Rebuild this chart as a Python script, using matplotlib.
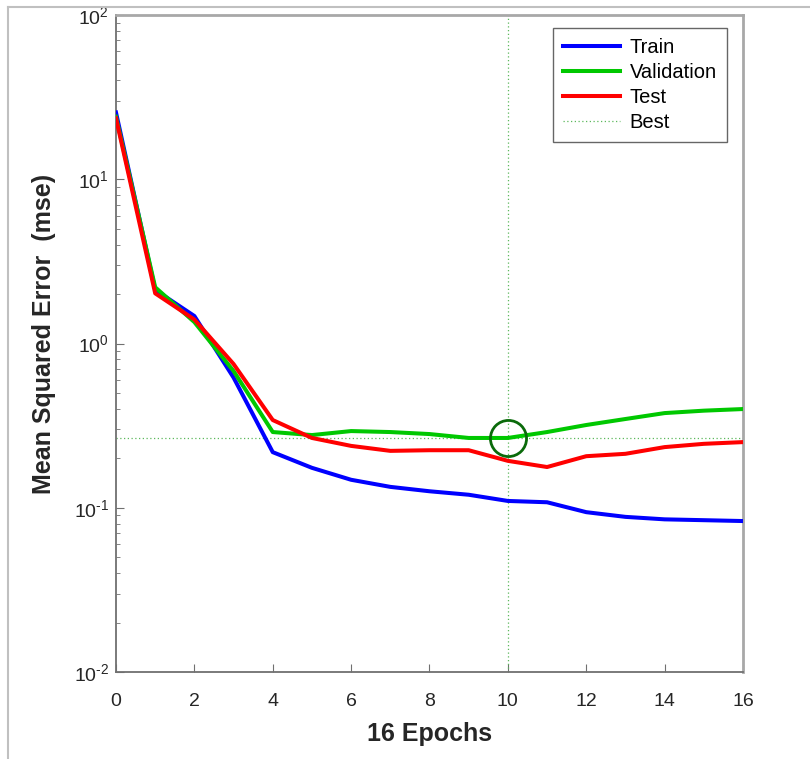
import matplotlib
matplotlib.use("Agg")
import matplotlib.pyplot as plt
from matplotlib.lines import Line2D
from matplotlib.ticker import LogLocator, FixedLocator, NullFormatter, FuncFormatter
import math

plt.rcParams['font.family'] = ['Liberation Sans', 'DejaVu Sans']
plt.rcParams['mathtext.fontset'] = 'custom'
plt.rcParams['mathtext.rm'] = 'Liberation Sans'
plt.rcParams['mathtext.it'] = 'Liberation Sans'
plt.rcParams['axes.unicode_minus'] = False

epochs = list(range(17))
train = [25.5, 2.12, 1.47, 0.62, 0.218, 0.175, 0.148, 0.134, 0.126, 0.120, 0.110, 0.108, 0.094, 0.088, 0.085, 0.084, 0.083]
validation = [24.0, 2.2, 1.35, 0.68, 0.289, 0.277, 0.293, 0.289, 0.281, 0.266, 0.266, 0.289, 0.319, 0.347, 0.377, 0.39, 0.399]
test = [23.5, 2.02, 1.40, 0.75, 0.342, 0.266, 0.238, 0.222, 0.224, 0.224, 0.193, 0.177, 0.206, 0.213, 0.234, 0.245, 0.251]
best_epoch = 10
best_value = 0.266
xticks = [0, 2, 4, 6, 8, 10, 12, 14, 16]

fig = plt.figure(figsize=(8.1, 7.59), dpi=100)
W, H = 810, 759
ax = fig.add_axes([116 / W, 1 - 672 / H, (743 - 116) / W, (672 - 15) / H])

ax.plot(epochs, train, color='#0000ff', lw=2.9, label='Train', zorder=3)
ax.plot(epochs, validation, color='#00c800', lw=2.9, label='Validation', zorder=3)
ax.plot(epochs, test, color='#ff0000', lw=2.9, label='Test', zorder=4)
ax.axvline(best_epoch, color='#5cb85c', lw=0.9, ls=(0, (1, 2)), label='Best', zorder=2)
ax.axhline(best_value, color='#5cb85c', lw=0.9, ls=(0, (1, 2)), zorder=2)
ax.plot([best_epoch], [best_value], marker='o', ms=26, mfc='none', mec='#0a6a0a', mew=2, zorder=5)

ax.set_yscale('log')
ax.set_xlim(0, 16)
ax.set_ylim(1e-2, 1e2)
ax.xaxis.set_major_locator(FixedLocator(xticks))
ax.yaxis.set_major_locator(LogLocator(base=10, numticks=10))
ax.yaxis.set_minor_locator(LogLocator(base=10, subs=range(2, 10), numticks=10))
ax.yaxis.set_minor_formatter(NullFormatter())


def pow_label(v, pos):
    e = int(round(math.log10(v)))
    return r'10$^{\mathregular{%s}}$' % (str(e).replace('-', r'\text{-}'))


ax.yaxis.set_major_formatter(FuncFormatter(pow_label))
ax.tick_params(axis='both', which='major', direction='in', length=6, labelsize=14,
               color='#707070', labelcolor='#262626')
ax.tick_params(axis='x', which='major', pad=15)
ax.tick_params(axis='y', which='major', pad=5)
ax.tick_params(axis='y', which='minor', direction='in', length=3, color='#707070')

for s in ['left', 'bottom']:
    ax.spines[s].set_color('#707070')
    ax.spines[s].set_linewidth(1.3)
for s in ['top', 'right']:
    ax.spines[s].set_color('#a8a8a8')
    ax.spines[s].set_linewidth(2.0)

ax.set_xlabel('16 Epochs', fontsize=18, fontweight='bold', color='#262626', labelpad=9)
ax.set_ylabel('Mean Squared Error  (mse)', fontsize=18, fontweight='bold', color='#262626')
ax.yaxis.set_label_coords(-0.096, 0.515)

leg = ax.legend(loc='upper right', bbox_to_anchor=(0.9745, 0.980), borderaxespad=0,
                fontsize=14.5, frameon=True, fancybox=False, edgecolor='#404040',
                handlelength=2.8, labelspacing=0.3, borderpad=0.5, handletextpad=0.5)
leg.get_frame().set_linewidth(1.0)

fig.add_artist(Line2D([8 / W, 8 / W], [0, 1 - 7 / H], color='#c0c0c0', lw=1.5, transform=fig.transFigure))
fig.add_artist(Line2D([8 / W, 1], [1 - 7 / H, 1 - 7 / H], color='#c0c0c0', lw=1.5, transform=fig.transFigure))

fig.savefig('out.png', dpi=100)
